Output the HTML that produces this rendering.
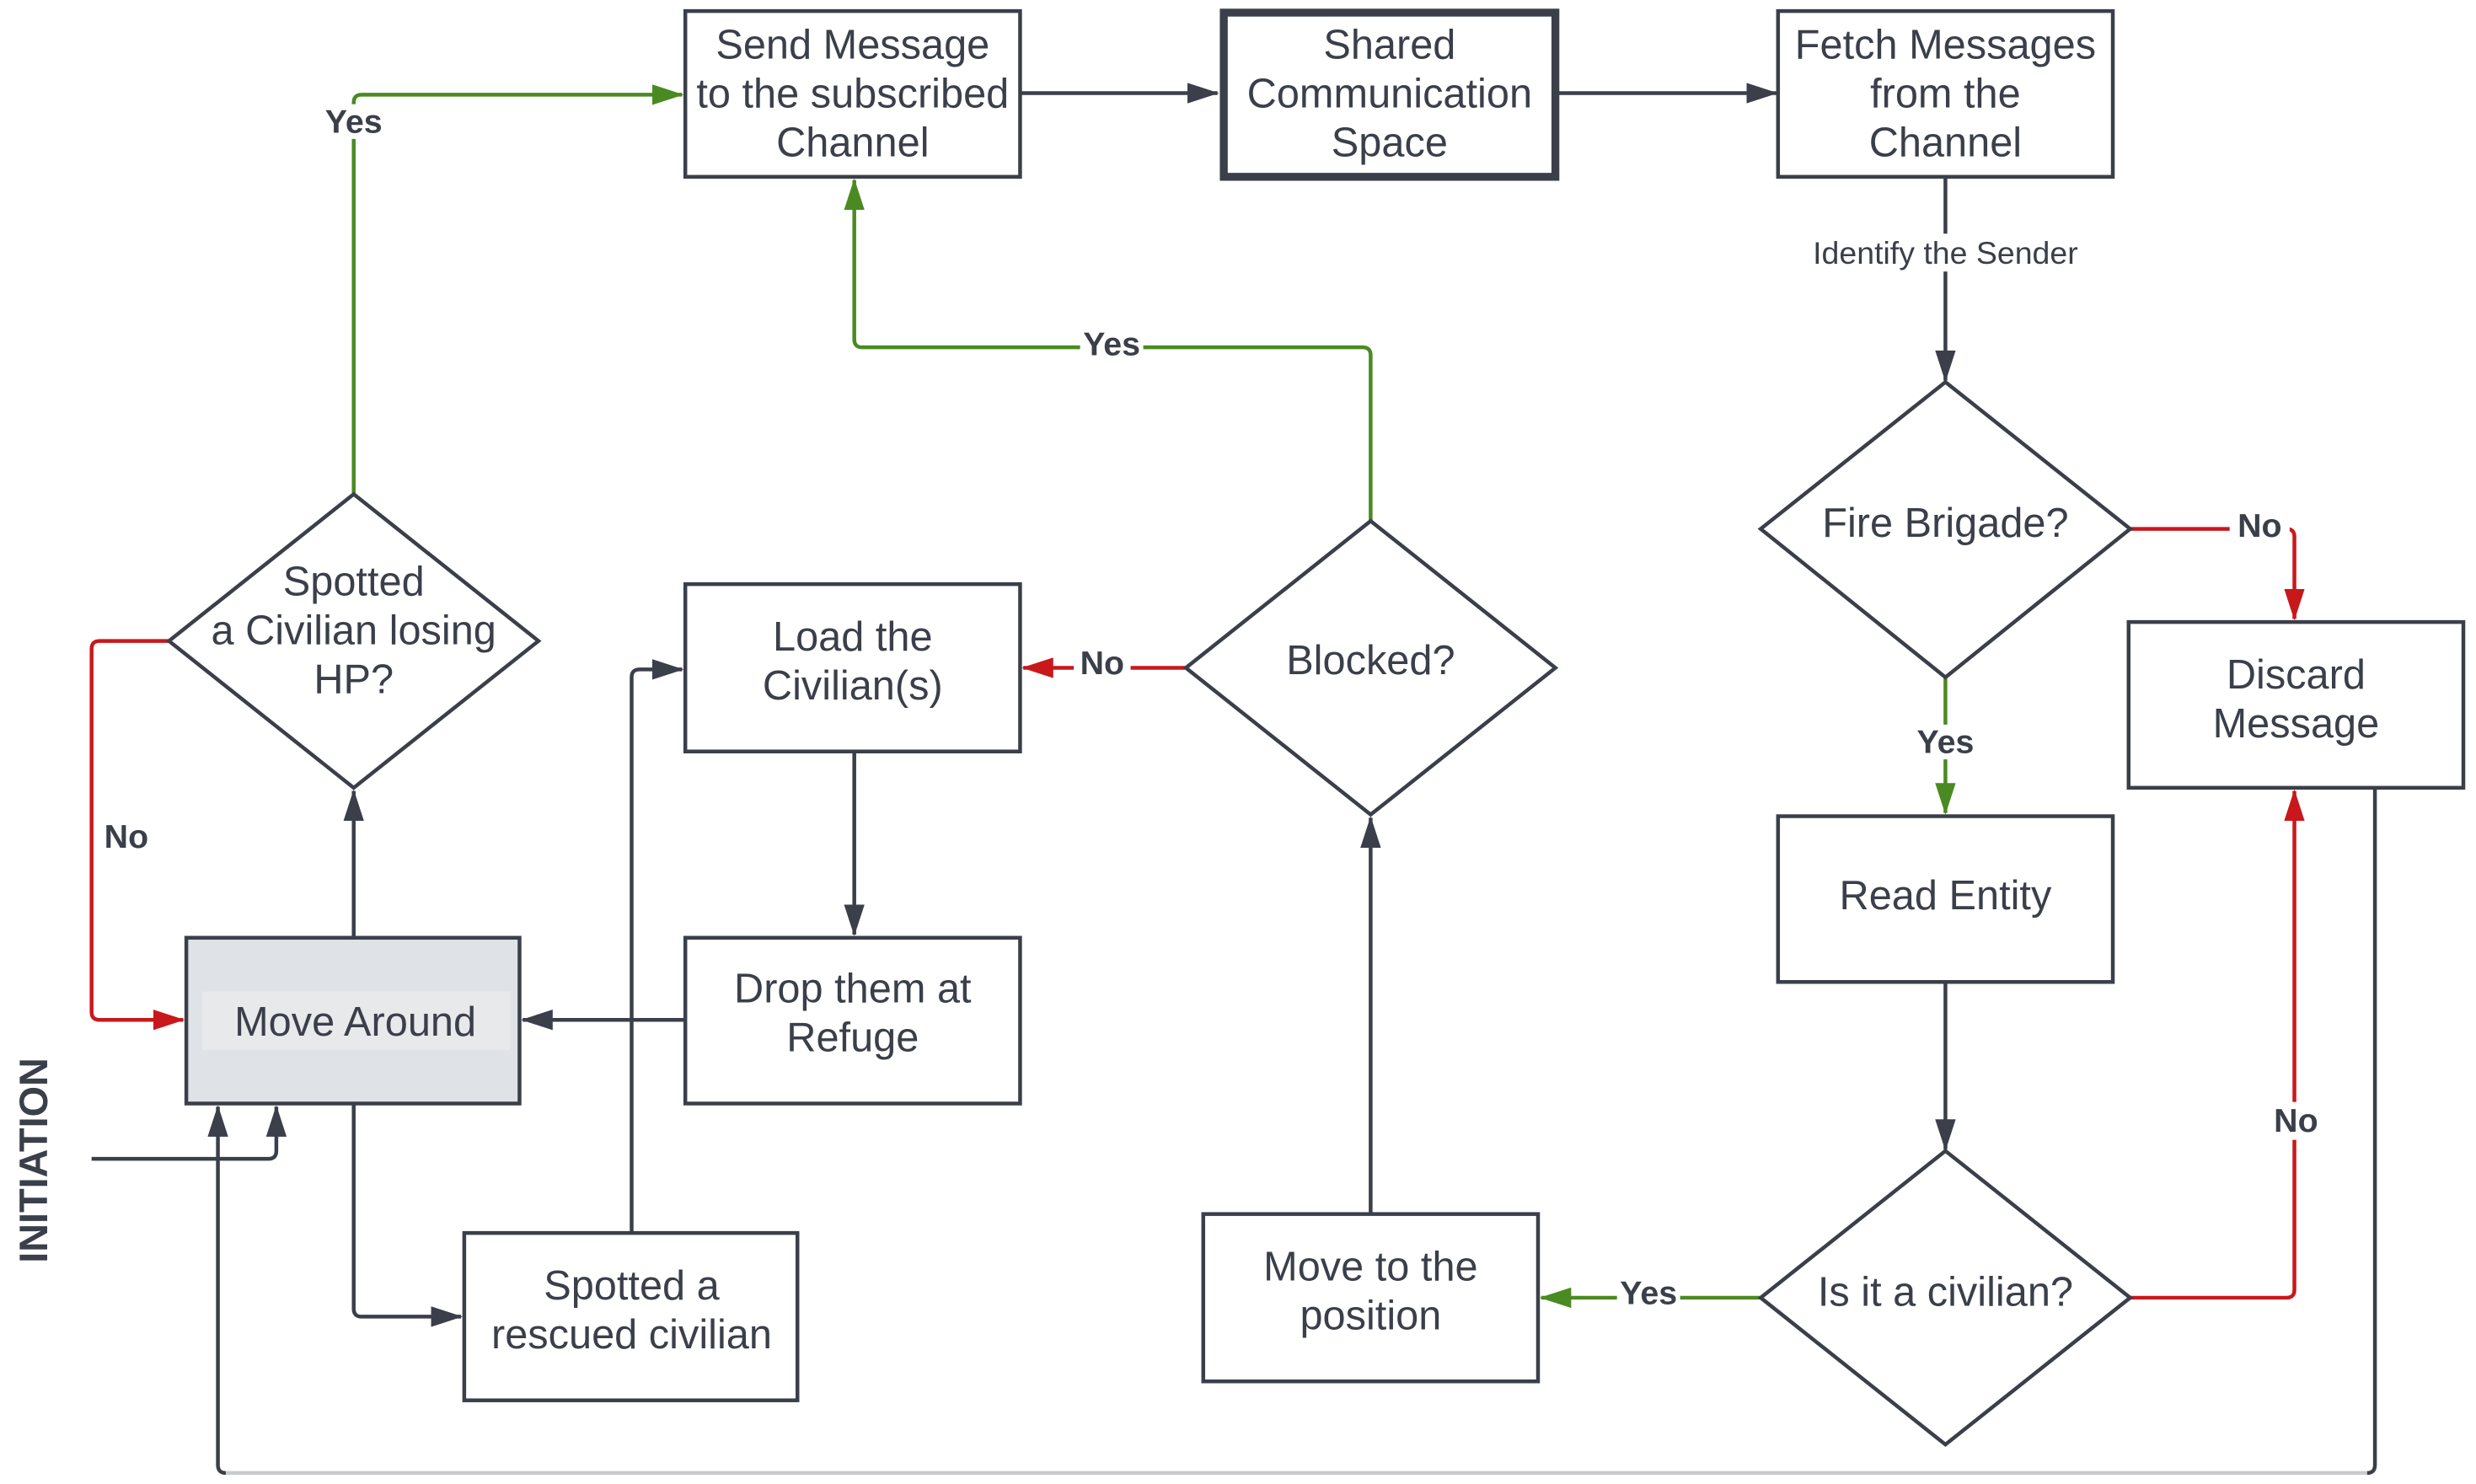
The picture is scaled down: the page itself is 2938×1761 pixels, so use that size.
<!DOCTYPE html>
<html><head><meta charset="utf-8"><style>
html,body{margin:0;padding:0;background:#fff;}
svg{display:block;}
text{font-family:"Liberation Sans",Arial,sans-serif;fill:#3a3f4a;}
.t{font-size:26px;text-anchor:middle;}
.l{font-size:21px;font-weight:bold;text-anchor:middle;}
</style></head><body>
<svg width="2938" height="1761" viewBox="0 0 1568 940" preserveAspectRatio="none" xmlns="http://www.w3.org/2000/svg">
<defs>
<marker id="ad" markerWidth="20" markerHeight="13" refX="19" refY="6.5" orient="auto" markerUnits="userSpaceOnUse"><path d="M0,0 L20,6.5 L0,13 z" fill="#3a3f4a"/></marker>
<marker id="ag" markerWidth="20" markerHeight="13" refX="19" refY="6.5" orient="auto" markerUnits="userSpaceOnUse"><path d="M0,0 L20,6.5 L0,13 z" fill="#4a8a22"/></marker>
<marker id="ar" markerWidth="20" markerHeight="13" refX="19" refY="6.5" orient="auto" markerUnits="userSpaceOnUse"><path d="M0,0 L20,6.5 L0,13 z" fill="#c8181b"/></marker>
</defs>
<g fill="none" stroke-width="2.4">
<g stroke="#3a3f4a" marker-end="url(#ad)">
<path d="M646,59 H771"/>
<path d="M986,59 H1125"/>
<path d="M1232,112 V241"/>
<path d="M1232,622 V728"/>
<path d="M868,769 V518"/>
<path d="M541,476 V592"/>
<path d="M434,646 H331"/>
<path d="M224,594 V501"/>
<path d="M224,699 V829 Q224,834 229,834 H292"/>
<path d="M400,781 V429 Q400,424 405,424 H432"/>
<path d="M58,734 H170 Q175,734 175,729 V701"/>
</g>
<path d="M1504,499 V928 Q1504,933 1499,933" stroke="#3a3f4a"/>
<path d="M1499,933 H143" stroke="#c9cbce"/>
<path d="M143,933 Q138,933 138,928 V701" stroke="#3a3f4a" marker-end="url(#ad)"/>
<g stroke="#4a8a22" marker-end="url(#ag)">
<path d="M1232,429 V515"/>
<path d="M1115,822 H976"/>
<path d="M868,330 V225 Q868,220 863,220 H546 Q541,220 541,215 V114"/>
<path d="M224,313 V65 Q224,60 229,60 H432"/>
</g>
<g stroke="#c8181b" marker-end="url(#ar)">
<path d="M1349,335 H1448 Q1453,335 1453,340 V392"/>
<path d="M1349,822 H1448 Q1453,822 1453,817 V501"/>
<path d="M751,423 H648"/>
<path d="M107,406 H63 Q58,406 58,411 V641 Q58,646 63,646 H116"/>
</g>
<g stroke="#3a3f4a" fill="#fff">
<rect x="434" y="7" width="212" height="105"/>
<rect x="775" y="8" width="210" height="104" stroke-width="5"/>
<rect x="1126" y="7" width="212" height="105"/>
<rect x="1348" y="394" width="212" height="105"/>
<rect x="1126" y="517" width="212" height="105"/>
<rect x="762" y="769" width="212" height="106"/>
<rect x="434" y="370" width="212" height="106"/>
<rect x="434" y="594" width="212" height="105"/>
<rect x="118" y="594" width="211" height="105" fill="#dfe2e6"/>
<rect x="294" y="781" width="211" height="106"/>
<path d="M1232,242 L1349,335 L1232,429 L1115,335 Z"/>
<path d="M1232,729 L1349,822 L1232,915 L1115,822 Z"/>
<path d="M868,330 L985,423 L868,516 L751,423 Z"/>
<path d="M224,313 L341,406 L224,499 L107,406 Z"/>
</g>
</g>
<rect x="128" y="628" width="195" height="37" fill="#e8e9eb"/>
<g fill="#fff">
<rect x="1142" y="148" width="180" height="24"/>
<rect x="1412" y="322" width="38" height="22"/>
<rect x="1210" y="459" width="44" height="22"/>
<rect x="1024" y="808" width="40" height="22"/>
<rect x="1436" y="698" width="36" height="24"/>
<rect x="680" y="409" width="36" height="22"/>
<rect x="684" y="207" width="40" height="22"/>
<rect x="202" y="66" width="44" height="22"/>
<rect x="62" y="518" width="36" height="24"/>
</g>
<text class="t" x="540" y="37">Send Message</text>
<text class="t" x="540" y="68">to the subscribed</text>
<text class="t" x="540" y="99">Channel</text>
<text class="t" x="880" y="37">Shared</text>
<text class="t" x="880" y="68">Communication</text>
<text class="t" x="880" y="99">Space</text>
<text class="t" x="1232" y="37">Fetch Messages</text>
<text class="t" x="1232" y="68">from the</text>
<text class="t" x="1232" y="99">Channel</text>
<text x="1232" y="167" style="font-size:20px;text-anchor:middle">Identify the Sender</text>
<text class="t" x="1232" y="340">Fire Brigade?</text>
<text class="t" x="1454" y="436">Discard</text>
<text class="t" x="1454" y="467">Message</text>
<text class="t" x="1232" y="576">Read Entity</text>
<text class="t" x="1232" y="827">Is it a civilian?</text>
<text class="t" x="868" y="811">Move to the</text>
<text class="t" x="868" y="842">position</text>
<text class="t" x="868" y="427">Blocked?</text>
<text class="t" x="540" y="412">Load the</text>
<text class="t" x="540" y="443">Civilian(s)</text>
<text class="t" x="540" y="635">Drop them at</text>
<text class="t" x="540" y="666">Refuge</text>
<text class="t" x="225" y="656">Move Around</text>
<text class="t" x="224" y="377">Spotted</text>
<text class="t" x="224" y="408">a Civilian losing</text>
<text class="t" x="224" y="439">HP?</text>
<text class="t" x="400" y="823">Spotted a</text>
<text class="t" x="400" y="854">rescued civilian</text>
<text class="l" x="1431" y="340">No</text>
<text class="l" x="1232" y="477">Yes</text>
<text class="l" x="1044" y="826">Yes</text>
<text class="l" x="1454" y="717">No</text>
<text class="l" x="698" y="427">No</text>
<text class="l" x="704" y="225">Yes</text>
<text class="l" x="224" y="84">Yes</text>
<text class="l" x="80" y="537">No</text>
<text x="0" y="0" transform="translate(30,735) rotate(-90)" style="font-size:25px;font-weight:bold;text-anchor:middle">INITIATION</text>
</svg>
</body></html>
